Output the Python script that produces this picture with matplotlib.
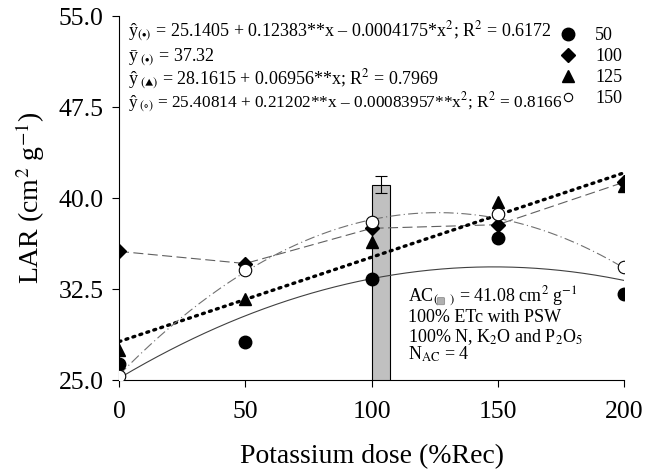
import matplotlib
matplotlib.use("Agg")
import matplotlib.pyplot as plt
from matplotlib.lines import Line2D
import numpy as np

# data
doses = [0, 50, 100, 150, 200]
lar_50 = [26.3, 28.1, 33.3, 36.7, 32.1]
lar_100 = [35.6, 34.6, 37.5, 37.8, 41.3]
lar_125 = [27.5, 31.7, 36.4, 39.7, 41.0]
lar_150 = [25.3, 34.1, 38.0, 38.7, 34.3]

# fitted models (coefficients printed on the chart, highest order last)
coef_50 = [25.1405, 0.12383, -0.0004175]
coef_125 = [28.1615, 0.06956]
coef_150 = [25.40814, 0.21202, -0.00083957]

ac_dose = 100
ac_value = 41.08
ac_err = 0.7
ac_width = 7.5

legend_labels = ["50", "100", "125", "150"]
eq_lines = [
    r"ŷ$_{(\bullet)}$ = 25.1405 + 0.12383**x – 0.0004175*x$^2$; R$^2$ = 0.6172",
    r"ȳ$_{\ (\bullet)}$ = 37.32",
    r"ŷ$_{\ (\blacktriangle)}$ = 28.1615 + 0.06956**x; R$^2$ = 0.7969",
    r"ŷ$_{\ (\circ)}$ = 25.40814 + 0.21202**x – 0.00083957**x$^2$; R$^2$ = 0.8166",
]
eq_sizes = [13, 13, 13, 12.4]
ac_lines = [
    r"AC$_{(\ \ \ \ )}$ = 41.08 cm$^2$ g$^{-1}$",
    "100% ETc with PSW",
    r"100% N, K$_2$O and P$_2$O$_5$",
    r"N$_{\mathrm{AC}}$ = 4",
]

plt.rcParams['font.family'] = ['Liberation Serif', 'DejaVu Serif']
plt.rcParams['mathtext.fontset'] = 'stix'

fig = plt.figure(figsize=(6.45, 4.73), dpi=100)
ax = fig.add_axes([119 / 645, 1 - 380 / 473, 505 / 645, 364 / 473])

ax.bar(ac_dose + ac_width / 2, ac_value, width=ac_width, color='#c0c0c0',
       edgecolor='black', linewidth=0.8, zorder=1)
ax.errorbar(ac_dose + ac_width / 2, ac_value, yerr=ac_err, fmt='none',
            ecolor='black', elinewidth=0.8, capsize=4, capthick=0.8, zorder=2)

xs = np.linspace(0, 200, 300)
ax.plot(xs, np.polyval(coef_50[::-1], xs), color='#404040', lw=0.8, zorder=3)
ax.plot(doses, lar_100, color='#606060', lw=0.8, ls=(0, (9, 4)), zorder=3)
ax.plot(xs, np.polyval(coef_125[::-1], xs), color='black', lw=2.4,
        ls=(0, (0.6, 1.6)), dash_capstyle='round', zorder=3)
ax.plot(xs, np.polyval(coef_150[::-1], xs), color='#707070', lw=0.8,
        ls=(0, (9, 3, 1, 3)), zorder=3)

ax.plot(doses, lar_50, 'o', color='black', ms=9, ls='none', zorder=5)
ax.plot(doses, lar_100, 'D', color='black', ms=7.5, ls='none', zorder=5)
ax.plot(doses, lar_125, '^', color='black', ms=9, ls='none', zorder=5)
ax.plot(doses, lar_150, 'o', mfc='white', mec='black', mew=0.8, ms=9,
        ls='none', zorder=6)

ax.set_xlim(0, 200)
ax.set_ylim(25, 55)
ax.set_xticks([0, 50, 100, 150, 200])
ax.set_yticks([25, 32.5, 40, 47.5, 55])
ax.set_yticklabels(["25.0", "32.5", "40.0", "47.5", "55.0"])
ax.tick_params(labelsize=18.5, direction='out', length=5, width=0.8, pad=6)
ax.tick_params(axis='x', pad=10)
for s in ['top', 'right']:
    ax.spines[s].set_visible(False)
for s in ['left', 'bottom']:
    ax.spines[s].set_linewidth(0.8)
ax.set_xlabel("Potassium dose (%Rec)", fontsize=20, labelpad=15)
ax.set_ylabel(r"LAR (cm$^2$ g$^{-1}$)", fontsize=20, labelpad=8)

eq_y = [53.27, 51.29, 49.31, 47.42]
for txt, yy, fs in zip(eq_lines, eq_y, eq_sizes):
    ax.text(3.6, yy, txt, fontsize=fs, va='baseline', ha='left')

handles = [
    Line2D([], [], marker='o', color='black', ms=9, ls='none'),
    Line2D([], [], marker='D', color='black', ms=7.5, ls='none'),
    Line2D([], [], marker='^', color='black', ms=9, ls='none'),
    Line2D([], [], marker='o', mfc='white', mec='black', mew=0.8, ms=6, ls='none'),
]
ax.legend(handles, legend_labels, loc='upper left', frameon=False,
          bbox_to_anchor=((559 - 119) / 505, 1 - (27 - 16) / 364), fontsize=13,
          handlelength=1.0, handletextpad=1.0, labelspacing=0.23,
          borderpad=0, borderaxespad=0)

ac_y = [31.43, 29.78, 28.13, 26.65]
for txt, yy in zip(ac_lines, ac_y):
    ax.text(114.5, yy, txt, fontsize=13, va='baseline', ha='left', zorder=7)
ax.text(127.5, 31.5, "   ", fontsize=5, va='center', ha='center',
        bbox=dict(boxstyle='round,pad=0.15', fc='#b0b0b0', ec='#909090', lw=0.6),
        zorder=7)

fig.savefig("out.png", dpi=100)
